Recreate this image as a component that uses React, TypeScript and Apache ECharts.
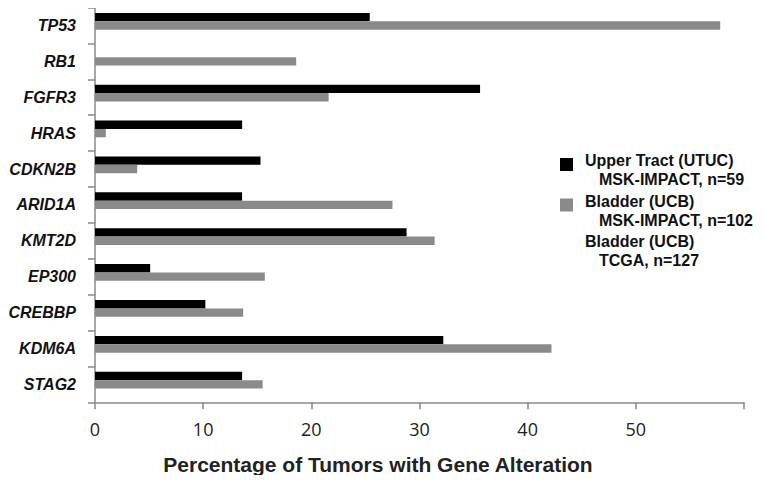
import React, { useEffect, useRef } from "react";
import * as echarts from "echarts";

const genes = ["TP53", "RB1", "FGFR3", "HRAS", "CDKN2B", "ARID1A", "KMT2D", "EP300", "CREBBP", "KDM6A", "STAG2"];
const utucImpact = [25.4, 0, 35.6, 13.6, 15.3, 13.6, 28.8, 5.1, 10.2, 32.2, 13.6];
const ucbImpact = [57.8, 18.6, 21.6, 1.0, 3.9, 27.5, 31.4, 15.7, 13.7, 42.2, 15.5];
const ucbTcga: (number | null)[] = [null, null, null, null, null, null, null, null, null, null, null];
const seriesNames = ["Upper Tract (UTUC)", "Bladder (UCB)", "Bladder (UCB)\u200b"];
const seriesSub = ["MSK-IMPACT, n=59", "MSK-IMPACT, n=102", "TCGA, n=127"];
const xTicks = [0, 10, 20, 30, 40, 50, 60];
const xTitle = "Percentage of Tumors with Gene Alteration";

export default function App() {
  const ref = useRef<HTMLDivElement>(null);
  useEffect(() => {
    if (!ref.current) return;
    const chart = echarts.init(ref.current, undefined, { renderer: "svg" });
    const axisColor = "#8a8a8a";
    const colors = ["#000000", "#8a8a8b", "#ffffff"];
    const values = [utucImpact, ucbImpact, ucbTcga];
    chart.setOption({
      animation: false,
      grid: { left: 95, right: 20, top: 7.5, bottom: 80.7 },
      xAxis: {
        type: "value",
        min: xTicks[0],
        max: xTicks[xTicks.length - 1],
        interval: 10,
        splitLine: { show: false },
        axisLine: { show: true, lineStyle: { color: axisColor, width: 1.5 } },
        axisTick: { show: true, length: 7, lineStyle: { color: axisColor, width: 1.5 } },
        axisLabel: {
          margin: 18,
          fontFamily: "Open Sans",
          fontSize: 18,
          color: "#222222",
          formatter: (v: number) => (v === 60 ? "" : String(v)),
        },
      },
      yAxis: {
        type: "category",
        data: genes,
        inverse: true,
        axisLine: { show: true, lineStyle: { color: axisColor, width: 1.5 } },
        axisTick: { show: true, length: 7, lineStyle: { color: axisColor, width: 1.5 } },
        axisLabel: {
          margin: 19,
          fontFamily: "Liberation Sans, Arial",
          fontSize: 16,
          fontWeight: "bold",
          fontStyle: "italic",
          color: "#111111",
        },
      },
      legend: {
        orient: "vertical",
        left: 560,
        top: 140,
        padding: 0,
        itemWidth: 13,
        itemHeight: 13,
        itemGap: -8.5,
        icon: "rect",
        data: seriesNames.map((n, i) => ({ name: n, itemStyle: { color: colors[i] } })),
        formatter: (name: string) => {
          const i = seriesNames.indexOf(name);
          return `{a|${seriesNames[i].replace("\u200b", "")}}\n{i|}{a|${seriesSub[i]}}`;
        },
        textStyle: {
          padding: [11, 0, 0, 7],
          lineHeight: 19,
          rich: {
            a: {
              fontFamily: "Liberation Sans, Arial",
              fontSize: 16,
              fontWeight: "bold",
              color: "#111111",
              lineHeight: 19,
            },
            i: { width: 14, lineHeight: 19 },
          },
        },
      },
      graphic: [
        {
          type: "text",
          x: 378,
          y: 464,
          style: {
            text: xTitle,
            fontFamily: "Liberation Sans, Arial",
            fontSize: 21,
            fontWeight: "bold",
            fill: "#222222",
            align: "center",
            verticalAlign: "middle",
          },
        },
      ],
      series: seriesNames.map((n, i) => ({
        name: n,
        type: "bar",
        data: values[i],
        barGap: "0%",
        barCategoryGap: "30%",
        itemStyle: { color: colors[i] },
      })),
    });
    return () => chart.dispose();
  }, []);
  return <div ref={ref} style={{ width: 764, height: 483, margin: -8 }} />;
}
